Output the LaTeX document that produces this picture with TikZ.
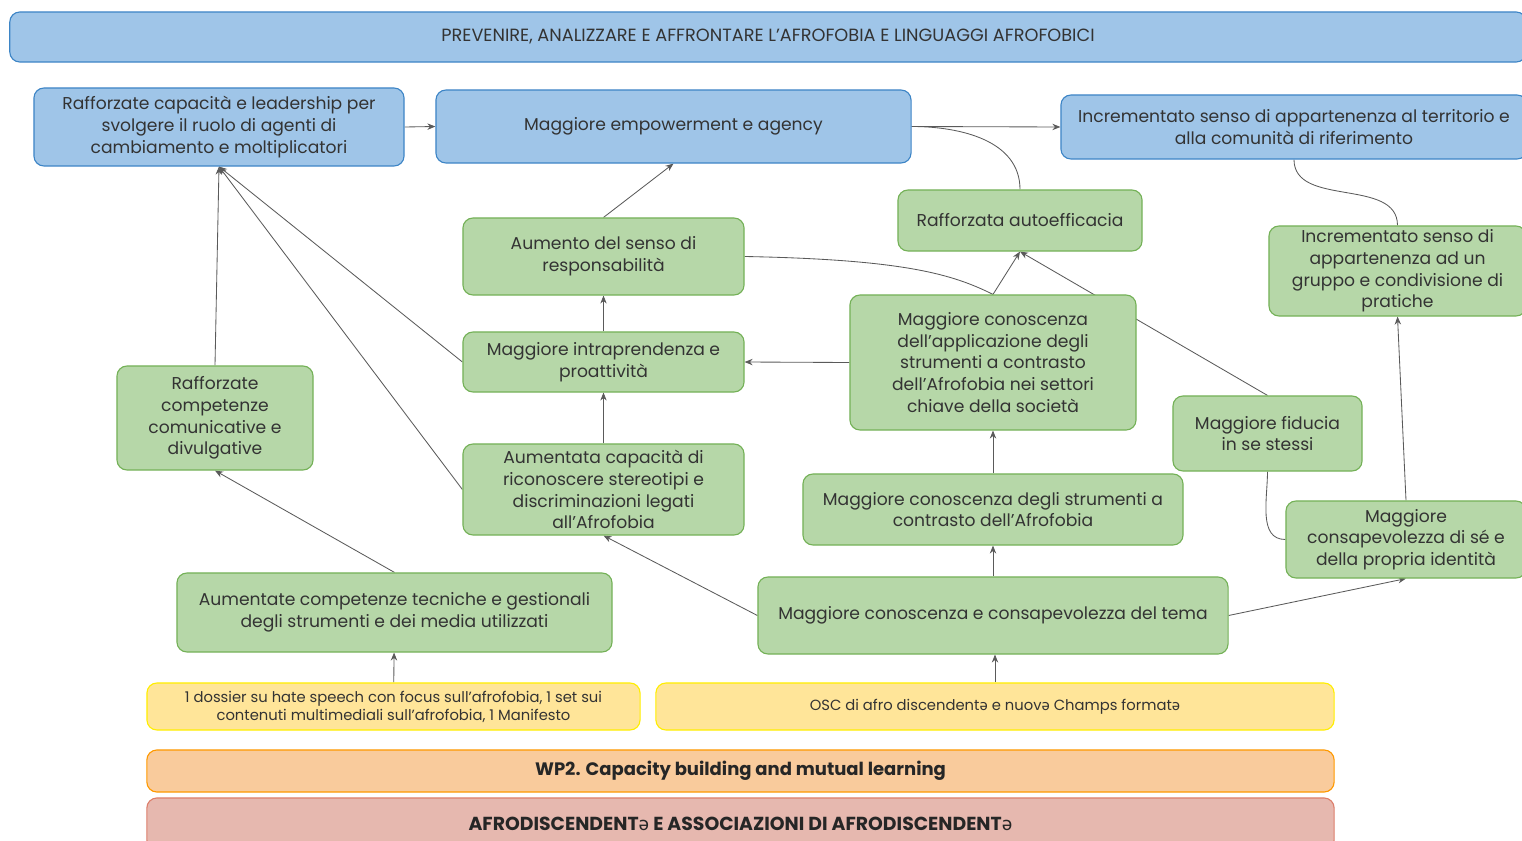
\documentclass[tikz,border=0pt]{standalone}
\usepackage{fontspec}
\setmainfont{Poppins}
\newfontfamily\schwafont{Noto Sans}
\usepackage{xcolor}
\usetikzlibrary{arrows.meta, positioning, backgrounds}

\definecolor{bluefill}{HTML}{9FC5E8}
\definecolor{blueline}{HTML}{3D85C6}
\definecolor{greenfill}{HTML}{B6D7A8}
\definecolor{greenline}{HTML}{74B157}
\definecolor{yellowfill}{HTML}{FFE599}
\definecolor{yellowline}{HTML}{FFEE00}
\definecolor{orangefill}{HTML}{F9CB9C}
\definecolor{orangeline}{HTML}{FF9900}
\definecolor{redfill}{HTML}{E6B8AF}
\definecolor{redline}{HTML}{DD7E6B}
\definecolor{inkgray}{HTML}{333333}
\definecolor{arrgray}{HTML}{5A5A5A}

\newcommand{\sw}{{\schwafont ə}}

\begin{document}
\begin{tikzpicture}[
  x=0.025cm, y=-0.025cm,
  box/.style={rectangle, draw, rounded corners=0.25cm, line width=0.8pt, align=center,
    inner sep=0pt, text=inkgray, font=\fontsize{12.2}{15.5}\selectfont},
  bbox/.style={box, fill=bluefill, draw=blueline},
  gbox/.style={box, fill=greenfill, draw=greenline},
  ybox/.style={box, fill=yellowfill, draw=yellowline, font=\fontsize{10.5}{12.8}\selectfont},
  arr/.style={-{Stealth[length=2mm, width=1.6mm]}, line width=0.6pt, draw=arrgray},
  ln/.style={line width=0.6pt, draw=arrgray}
]
\clip (0,0) rectangle (1522,841);
\useasboundingbox (0,0) rectangle (1522,841);

% goal
\node[bbox, minimum width=37.9cm, minimum height=1.25cm, font=\fontsize{12.6}{15}\selectfont] (goal) at (768,37)
  {PREVENIRE, ANALIZZARE E AFFRONTARE L'AFROFOBIA E LINGUAGGI AFROFOBICI};

% long-term outcomes
\node[bbox, minimum width=9.25cm, minimum height=1.95cm] (lead) at (219,127)
  {Rafforzate capacità e leadership per\\svolgere il ruolo di agenti di\\cambiamento e moltiplicatori};
\node[bbox, minimum width=11.875cm, minimum height=1.825cm] (emp) at (673.5,126.5)
  {Maggiore empowerment e agency};
\node[bbox, minimum width=11.65cm, minimum height=1.6cm] (terr) at (1294,127)
  {Incrementato senso di appartenenza al territorio e\\alla comunità di riferimento};

% intermediate outcomes
\node[gbox, minimum width=7.025cm, minimum height=1.925cm] (resp) at (603.5,256.5)
  {Aumento del senso di\\responsabilità};
\node[gbox, minimum width=6.1cm, minimum height=1.525cm] (auto) at (1020,220.5)
  {Rafforzata autoefficacia};
\node[gbox, minimum width=6.425cm, minimum height=2.25cm] (grp) at (1397.5,271)
  {Incrementato senso di\\appartenenza ad un\\gruppo e condivisione di\\pratiche};
\node[gbox, minimum width=7.025cm, minimum height=1.5cm] (intra) at (603.5,362)
  {Maggiore intraprendenza e\\proattività};
\node[gbox, minimum width=7.15cm, minimum height=3.375cm] (appl) at (993,362.5)
  {Maggiore conoscenza\\dell'applicazione degli\\strumenti a contrasto\\dell'Afrofobia nei settori\\chiave della società};
\node[gbox, minimum width=4.9cm, minimum height=2.6cm] (comu) at (215,418)
  {Rafforzate\\competenze\\comunicative e\\divulgative};
\node[gbox, minimum width=4.725cm, minimum height=1.875cm] (fid) at (1267.5,433.5)
  {Maggiore fiducia\\in se stessi};
\node[gbox, minimum width=7.025cm, minimum height=2.275cm] (ric) at (603.5,489.5)
  {Aumentata capacità di\\riconoscere stereotipi e\\discriminazioni legati\\all'Afrofobia};
\node[gbox, minimum width=9.5cm, minimum height=1.775cm] (strum) at (993,509.5)
  {Maggiore conoscenza degli strumenti a\\contrasto dell'Afrofobia};
\node[gbox, minimum width=6cm, minimum height=1.925cm] (cons) at (1406,539.5)
  {Maggiore\\consapevolezza di sé e\\della propria identità};
\node[gbox, minimum width=10.875cm, minimum height=1.975cm] (tec) at (394.5,612.5)
  {Aumentate competenze tecniche e gestionali\\degli strumenti e dei media utilizzati};
\node[gbox, minimum width=11.75cm, minimum height=1.925cm] (tema) at (993,615.5)
  {Maggiore conoscenza e consapevolezza del tema};

% outputs
\node[ybox, minimum width=12.325cm, minimum height=1.175cm] (out1) at (393.5,706.5)
  {1 dossier su hate speech con focus sull'afrofobia, 1 set sui\\contenuti multimediali sull'afrofobia, 1 Manifesto};
\node[ybox, minimum width=16.95cm, minimum height=1.175cm] (out2) at (995,706.5)
  {OSC di afro discendent\sw{} e nuov\sw{} Champs format\sw};

% work package and target
\node[box, fill=orangefill, draw=orangeline, minimum width=29.675cm, minimum height=1.05cm,
  font=\fontsize{12.8}{15}\selectfont\bfseries, text=black!85] (wp) at (740.5,771)
  {WP2. Capacity building and mutual learning};
\node[box, fill=redfill, draw=redline, minimum width=29.675cm, minimum height=1.3cm,
  font=\fontsize{13.4}{15}\selectfont\bfseries, text=black!85] (afro) at (740.5,824)
  {AFRODISCENDENT\sw{} E ASSOCIAZIONI DI AFRODISCENDENT\sw};

\begin{scope}[on background layer]
\draw[arr] (lead.east) -- (emp.west);
\draw[arr] (emp.east) -- (terr.west);
\draw[ln] (emp.east) to[out=0, in=90] (auto.north);
\draw[ln] (terr.south) to[out=-90, in=90] (grp.north);
\draw[arr] (resp.north) -- (emp.south);
\draw[arr] (intra) -- (resp);
\draw[arr] (ric) -- (intra);
\draw[arr] (appl.west) -- (intra.east);
\draw[arr] (appl.north) -- (auto.south);
\draw[ln] (resp.east) .. controls +(160,3) and +(-40,-20) .. (appl.north);
\draw[arr] (fid.north) -- (auto.south);
\draw[ln] (fid.south) to[out=-90, in=180] (cons.west);
\draw[arr] (cons.north) -- (grp.south);
\draw[arr] (tema.east) -- (cons.south);
\draw[arr] (tema) -- (strum);
\draw[arr] (strum) -- (appl);
\draw[arr] (tema.west) -- (ric.south);
\draw[arr] (tec.north) -- (comu.south);
\draw[arr] (comu.north) -- (lead.south);
\draw[arr] (intra.west) -- (lead.south);
\draw[arr] (ric.west) -- (lead.south);
\draw[arr] (out1) -- (tec);
\draw[arr] (out2.north) -- (out2.north |- tema.south);
\end{scope}
\end{tikzpicture}
\end{document}
